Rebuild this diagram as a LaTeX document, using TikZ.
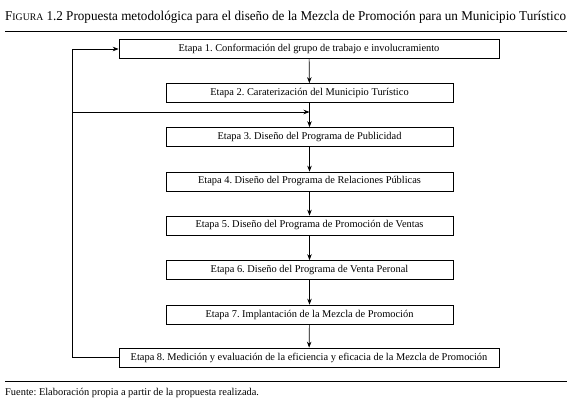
\documentclass[tikz,border=0pt]{standalone}
\usepackage{fontspec}
\setmainfont{Liberation Serif}
\usetikzlibrary{arrows.meta}
\begin{document}
\frenchspacing
\begin{tikzpicture}[x=1pt,y=-1pt,
  stagebox/.style={draw, line width=0.7pt, minimum height=19pt, inner sep=0pt, font=\fontsize{10.4}{12}\selectfont},
  wide/.style={stagebox, minimum width=380pt},
  narrow/.style={stagebox, minimum width=287pt},
  conn/.style={line width=0.7pt, -{Stealth[length=6pt,width=4.5pt]}},
  rule/.style={line width=0.8pt}]
\useasboundingbox (0,0) rectangle (572,402);
\node[anchor=west, inner sep=0pt, font=\fontsize{13.5}{15}\selectfont] (title) at (5,17)
  {\scalebox{0.972}[1]{{F}{\fontsize{10}{12}\selectfont IGURA} 1.2 Propuesta metodológica para el diseño de la Mezcla de Promoción para un Municipio Turístico}};
\coordinate (r1a) at (5,31); \coordinate (r1b) at (567,31);
\draw[rule] (r1a) -- (r1b);
\node[wide]   (e1) at (309,49)  {Etapa 1. Conformación del grupo de trabajo e involucramiento};
\node[narrow] (e2) at (309.5,93)  {Etapa 2. Caraterización del Municipio Turístico};
\node[narrow] (e3) at (309.5,137) {Etapa 3. Diseño del Programa de Publicidad};
\node[narrow] (e4) at (309.5,181.5) {Etapa 4. Diseño del Programa de Relaciones Públicas};
\node[narrow] (e5) at (309.5,225.5) {Etapa 5. Diseño del Programa de Promoción de Ventas};
\node[narrow] (e6) at (309.5,270) {Etapa 6. Diseño del Programa de Venta Peronal};
\node[narrow] (e7) at (309.5,314.5) {Etapa 7. Implantación de la Mezcla de Promoción};
\node[wide]   (e8) at (309,357.5) {Etapa 8. Medición y evaluación de la eficiencia y eficacia de la Mezcla de Promoción};
\draw[conn] (e1) -- (e2);
\draw[conn] (e2) -- (e3);
\draw[conn] (e3) -- (e4);
\draw[conn] (e4) -- (e5);
\draw[conn] (e5) -- (e6);
\draw[conn] (e6) -- (e7);
\draw[conn] (e7) -- (e8);
\coordinate (lb) at (72,357.5);
\coordinate (lt) at (72,49);
\coordinate (lj) at (72,112);
\coordinate (mj) at (309.5,112);
\draw[conn] (e8.west) -- (lb) -- (lt) -- (e1.west);
\draw[conn] (lj) -- (mj);
\coordinate (r2a) at (5,381); \coordinate (r2b) at (567,381);
\draw[rule] (r2a) -- (r2b);
\node[anchor=west, inner sep=0pt, font=\fontsize{10.4}{12}\selectfont] (src) at (5,393) {Fuente: Elaboración propia a partir de la propuesta realizada.};
\end{tikzpicture}
\end{document}
